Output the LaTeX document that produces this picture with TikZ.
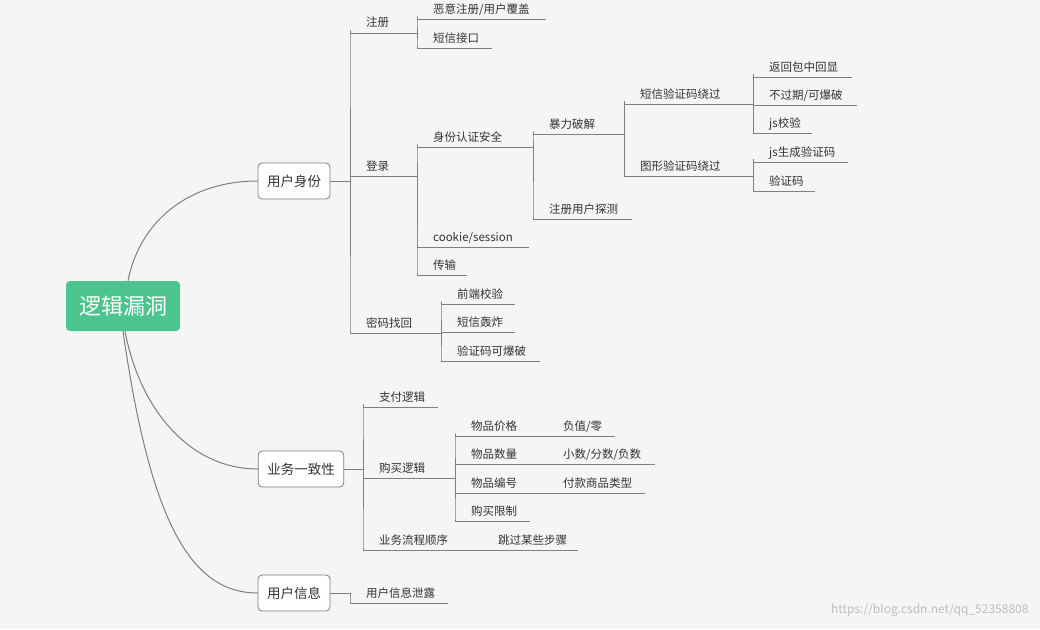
\documentclass[tikz,border=0pt]{standalone}
\usepackage{fontspec}
\setmainfont{Noto Sans CJK SC}
\usetikzlibrary{calc,positioning}
\definecolor{bgcol}{HTML}{F5F5F5}
\definecolor{rootcol}{HTML}{4DC38D}
\definecolor{linkcol}{HTML}{7F7F7F}
\definecolor{txtcol}{HTML}{333333}
\tikzset{
  link/.style={draw=linkcol, line width=1pt, rounded corners=3pt},
  lbl/.style={text=txtcol, font=\fontsize{11.5}{13}\selectfont, inner sep=0pt, anchor=base west},
  topic/.style={draw=linkcol, fill=white, rounded corners=4pt, line width=0.8pt, text=txtcol,
    font=\fontsize{13.5}{15}\selectfont, minimum height=36pt, inner xsep=9pt}
}
% name, x start, x end, y, text
\newcommand\leaf[5]{%
  \coordinate (#1-s) at (#2,#4);
  \coordinate (#1-e) at (#3,#4);
  \node[lbl] (#1) at ($(#1-s)+(16,-6)$) {#5};
  \draw[link] (#1-s) -- (#1-e);
}
\begin{document}
\begin{tikzpicture}[x=1pt,y=-1pt]
  \fill[bgcol] (0,0) rectangle (1040,629);
  \useasboundingbox (0,0) rectangle (1040,629);
  % root and main topics
  \node[fill=rootcol, rounded corners=4pt, text=white, minimum width=114pt, minimum height=50pt,
    font=\fontsize{22}{24}\selectfont] (root) at (123,306) {逻辑漏洞};
  \node[topic] (user) at (294,181) {用户身份};
  \node[topic] (biz) at (301,469) {业务一致性};
  \node[topic] (info) at (294,593) {用户信息};
  \draw[link] (root.north) ++(5,0) .. controls (140,220) and (190,181) .. (user.west);
  \draw[link] (root.south) ++(2,0) .. controls (140,410) and (190,469) .. (biz.west);
  \draw[link] (root.south) ++(0,0) .. controls (150,520) and (190,593) .. (info.west);
  \coordinate (user-e) at (350,181);
  \coordinate (biz-e) at (363,469);
  \coordinate (info-e) at (350,593);
  \draw[link] (user.east) -- (user-e);
  \draw[link] (biz.east) -- (biz-e);
  \draw[link] (info.east) -- (info-e);
  % 用户身份
  \leaf{reg}{350}{417}{33}{注册}
  \leaf{login}{350}{417}{176}{登录}
  \leaf{pwd}{350}{441}{333}{密码找回}
  \foreach \c in {reg,login,pwd} \draw[link] (user-e) |- (\c-s);
  \leaf{evil}{417}{546}{19}{恶意注册/用户覆盖}
  \leaf{sms}{417}{492}{48}{短信接口}
  \foreach \c in {evil,sms} \draw[link] (reg-e) |- (\c-s);
  \leaf{auth}{417}{533}{147}{身份认证安全}
  \leaf{cookie}{417}{529}{247}{cookie/session}
  \leaf{trans}{417}{467}{275}{传输}
  \foreach \c in {auth,cookie,trans} \draw[link] (login-e) |- (\c-s);
  \leaf{brute}{533}{624}{134}{暴力破解}
  \leaf{probe}{533}{632}{219}{注册用户探测}
  \foreach \c in {brute,probe} \draw[link] (auth-e) |- (\c-s);
  \leaf{smscode}{624}{753}{104}{短信验证码绕过}
  \leaf{imgcode}{624}{753}{176}{图形验证码绕过}
  \foreach \c in {smscode,imgcode} \draw[link] (brute-e) |- (\c-s);
  \leaf{echo}{753}{852}{77}{返回包中回显}
  \leaf{expire}{753}{857}{105}{不过期/可爆破}
  \leaf{jscheck}{753}{812}{133}{js校验}
  \foreach \c in {echo,expire,jscheck} \draw[link] (smscode-e) |- (\c-s);
  \leaf{jsgen}{753}{848}{162}{js生成验证码}
  \leaf{vcode}{753}{815}{191}{验证码}
  \foreach \c in {jsgen,vcode} \draw[link] (imgcode-e) |- (\c-s);
  \leaf{front}{441}{515}{304}{前端校验}
  \leaf{bomb}{441}{515}{332}{短信轰炸}
  \leaf{crack}{441}{540}{361}{验证码可爆破}
  \foreach \c in {front,bomb,crack} \draw[link] (pwd-e) |- (\c-s);
  % 业务一致性
  \leaf{pay}{363}{438}{407}{支付逻辑}
  \leaf{buy}{363}{455}{478}{购买逻辑}
  \leaf{flow}{363}{578}{550}{业务流程顺序}
  \foreach \c in {pay,buy,flow} \draw[link] (biz-e) |- (\c-s);
  \node[lbl] (skip) at (498,544) {跳过某些步骤};
  \leaf{price}{455}{615}{436}{物品价格}
  \leaf{qty}{455}{655}{464}{物品数量}
  \leaf{sku}{455}{645}{493}{物品编号}
  \leaf{limit}{455}{530}{521}{购买限制}
  \foreach \c in {price,qty,sku,limit} \draw[link] (buy-e) |- (\c-s);
  \node[lbl] (neg) at (563,430) {负值/零};
  \node[lbl] (frac) at (563,458) {小数/分数/负数};
  \node[lbl] (type) at (563,487) {付款商品类型};
  % 用户信息
  \leaf{leak}{350}{448}{603}{用户信息泄露}
  \draw[link] (info-e) |- (leak-s);
  \node[text=black!25, font=\fontsize{12}{14}\selectfont, anchor=east] (mark) at (1032,610) {https://blog.csdn.net/qq\_52358808};
\end{tikzpicture}
\end{document}
